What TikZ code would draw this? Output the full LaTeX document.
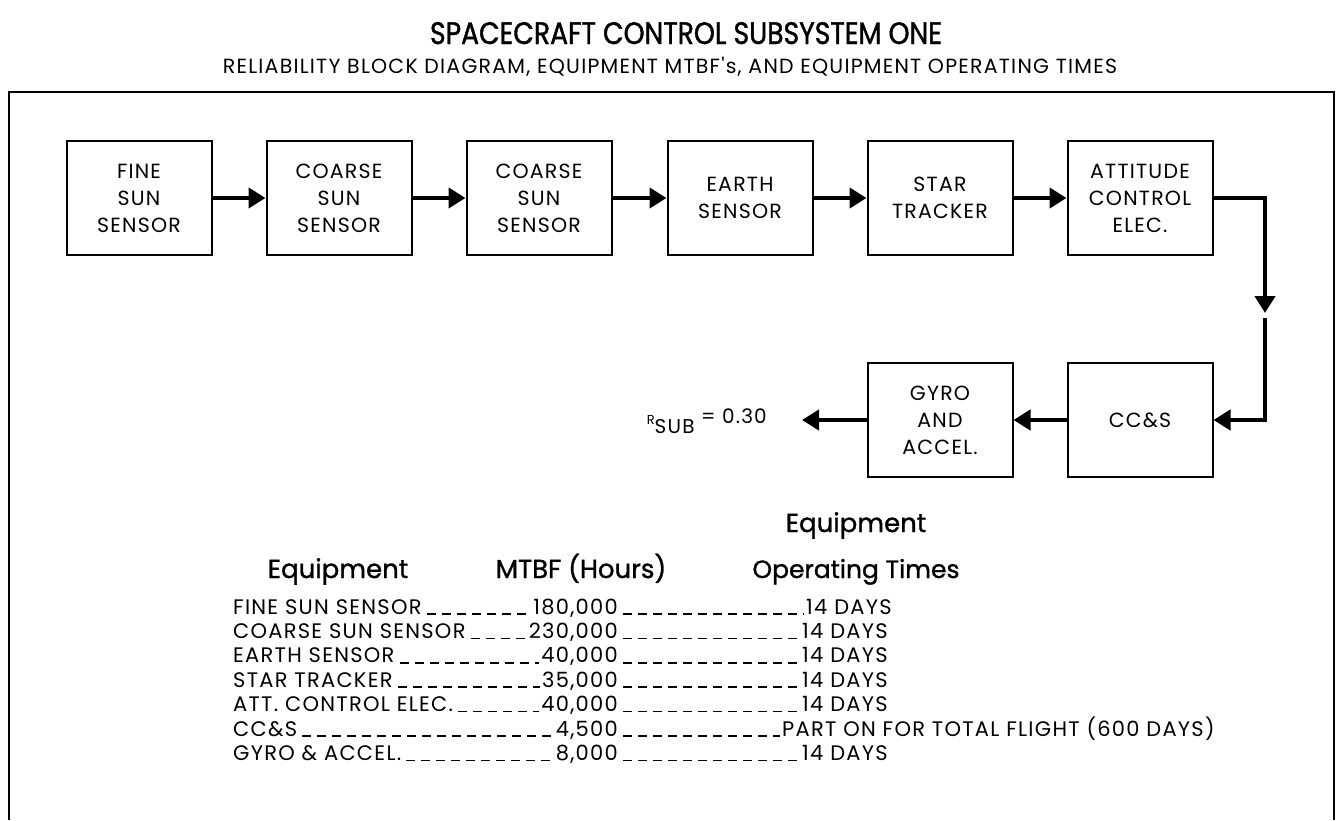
\documentclass[tikz,border=0pt]{standalone}
\usepackage{fontspec}
\setmainfont{Poppins}
\newfontfamily\titlefont[FakeStretch=0.86,FakeBold=1.2]{Poppins}
\newfontfamily\hdrfont[FakeBold=1.2]{Poppins}
\newfontfamily\spacedfont[LetterSpace=6]{Poppins}
\usetikzlibrary{arrows.meta,positioning,calc}
\tikzset{
  blk/.style={draw,line width=2pt,minimum width=145pt,minimum height=114pt,align=center,inner sep=0pt,font=\spacedfont\fontsize{20.5}{27}\selectfont},
  arr/.style={-{Triangle[length=17pt,width=20pt]},line width=4.5pt},
  row/.style={anchor=base west,inner sep=0pt,font=\spacedfont\fontsize{21}{24}\selectfont},
  num/.style={anchor=base east,inner sep=0pt,font=\spacedfont\fontsize{21}{24}\selectfont},
  hdr/.style={anchor=base,inner sep=0pt,font=\hdrfont\fontsize{26}{30}\selectfont},
  leader/.style={line width=1.5pt,dash pattern=on 9pt off 6pt,shorten <=5pt,shorten >=2pt},
}
\begin{document}
\begin{tikzpicture}[x=1pt,y=-1pt]
\useasboundingbox (0,0) rectangle (1340,820);
% titles
\node[anchor=base,inner sep=0pt,font=\titlefont\fontsize{31}{34}\selectfont] (title) at (686,44) {SPACECRAFT CONTROL SUBSYSTEM ONE};
\node[anchor=base,inner sep=0pt,font=\spacedfont\fontsize{20.5}{24}\selectfont] (subtitle) at (670,73) {RELIABILITY BLOCK DIAGRAM, EQUIPMENT MTBF's, AND EQUIPMENT OPERATING TIMES};
\draw[line width=2.5pt] (9,820) |- (1334,92) -- (1334,820);
% block diagram
\foreach \n/\lab/\x/\y in {fss/{FINE\\SUN\\SENSOR}/139/198, css/{COARSE\\SUN\\SENSOR}/339/198, cssb/{COARSE\\SUN\\SENSOR}/539/198,
  es/{EARTH\\SENSOR}/740/198, st/{STAR\\TRACKER}/940/198, ace/{ATTITUDE\\CONTROL\\ELEC.}/1140/198,
  ccs/{CC\&S}/1140/420, gyro/{GYRO\\AND\\ACCEL.}/940/420}
  \node[blk] (\n) at (\x,\y) {\lab};
\foreach \a/\b in {fss/css,css/cssb,cssb/es,es/st,st/ace,ccs/gyro}
  \draw[arr] (\a) -- (\b);
\coordinate (drop) at (1265,313);
\coordinate (rise) at (1265,318);
\coordinate (out) at (802,420);
\draw[arr] (ace.east) -| (drop);
\draw[arr] (rise) |- (ccs.east);
\draw[arr] (gyro.west) -- (out);
\node[anchor=base east,inner sep=0pt,font=\spacedfont\fontsize{20}{22}\selectfont] (rsub) at (767,423)
  {\raisebox{-1pt}{\fontsize{13}{13}\selectfont R}\raisebox{-10pt}{SUB} = 0.30};
% table
\node[hdr] (h3a) at (856,532) {Equipment};
\node[hdr] (h1) at (338,578) {Equipment};
\node[hdr] (h2) at (581,578) {MTBF (Hours)};
\node[hdr,font=\hdrfont\fontsize{25}{30}\selectfont] (h3) at (856,578) {Operating Times};
\foreach \lab/\val/\tx/\tm [count=\i] in {
  {FINE SUN SENSOR}/{180,000}/806/{14 DAYS},
  {COARSE SUN SENSOR}/{230,000}/802/{14 DAYS},
  {EARTH SENSOR}/{40,000}/802/{14 DAYS},
  {STAR TRACKER}/{35,000}/802/{14 DAYS},
  {ATT. CONTROL ELEC.}/{40,000}/802/{14 DAYS},
  {CC\&S}/{4,500}/782/{PART ON FOR TOTAL FLIGHT (600 DAYS)},
  {GYRO \& ACCEL.}/{8,000}/802/{14 DAYS}} {
  \pgfmathsetmacro\y{614+24.4*(\i-1)}
  \node[row] (l\i) at (233,\y) {\lab};
  \node[num] (n\i) at (618,\y) {\val};
  \node[row] (t\i) at (\tx,\y) {\tm};
  \draw[leader] (l\i.base east) -- (n\i.base west);
  \draw[leader] (n\i.base east) -- (t\i.base west);
}
\end{tikzpicture}
\end{document}
